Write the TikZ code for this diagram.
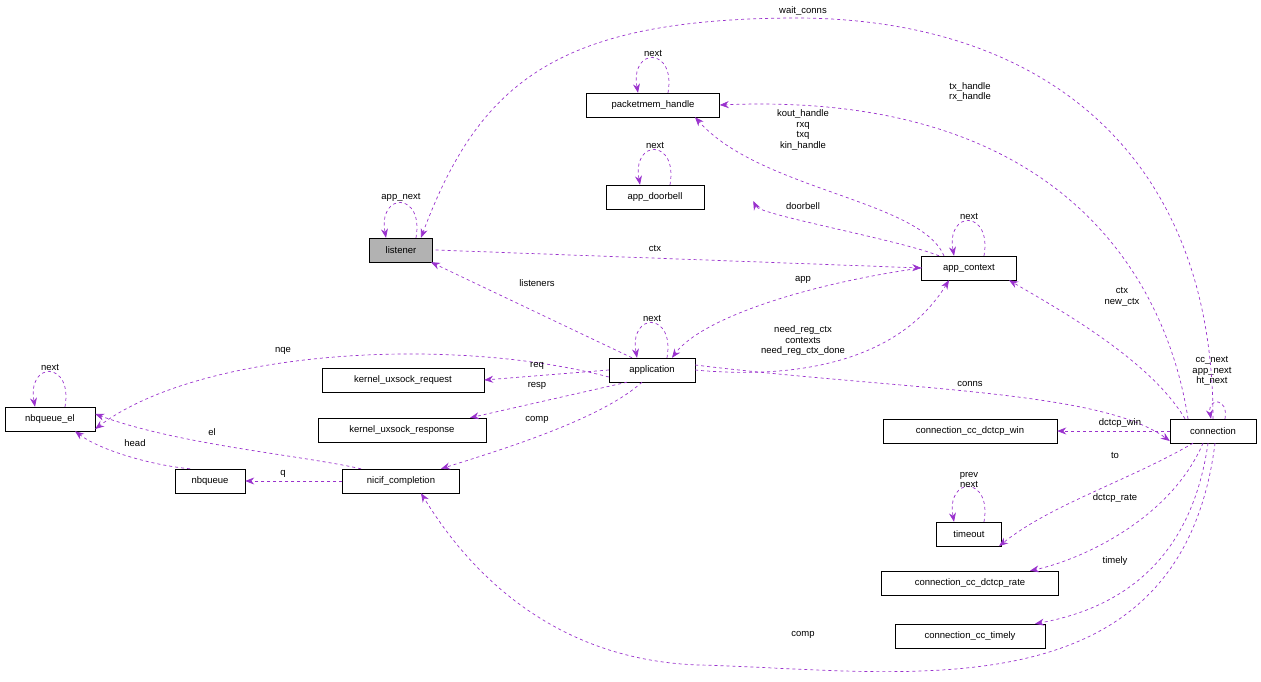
\documentclass[tikz,border=0pt]{standalone}
\usepackage{fontspec}
\setmainfont{Liberation Sans}
\usetikzlibrary{arrows.meta}
\definecolor{edgepurple}{HTML}{9A32CD}
\tikzset{
  box/.style={draw, fill=white, inner sep=0pt, minimum height=24pt, font=\fontsize{9.5}{10.5}\selectfont},
  rel/.style={draw=edgepurple, dashed, line width=0.7pt, -{Stealth[length=9pt,width=7pt]}},
  lbl/.style={font=\fontsize{9.5}{10.5}\selectfont, align=center, inner sep=1pt}
}
\begin{document}
\begin{tikzpicture}[x=1pt,y=-1pt]
  \useasboundingbox (0,0) rectangle (1261,682);
  % classes
  \node[box, fill=gray!60, minimum width=63pt] (listener) at (401,250) {listener};
  \node[box, minimum width=133pt] (pmh) at (653,105) {packetmem\_handle};
  \node[box, minimum width=98pt] (doorbell) at (655,197) {app\_doorbell};
  \node[box, minimum width=95pt] (appctx) at (969,268) {app\_context};
  \node[box, minimum width=86pt] (app) at (652,370) {application};
  \node[box, minimum width=162pt] (ureq) at (403,380) {kernel\_uxsock\_request};
  \node[box, minimum width=168pt] (uresp) at (402,430) {kernel\_uxsock\_response};
  \node[box, minimum width=90pt] (nqel) at (50,419) {nbqueue\_el};
  \node[box, minimum width=70pt] (nq) at (210,481) {nbqueue};
  \node[box, minimum width=117pt] (nicif) at (401,481) {nicif\_completion};
  \node[box, minimum width=86pt] (conn) at (1213,431) {connection};
  \node[box, minimum width=174pt] (ccwin) at (970,431) {connection\_cc\_dctcp\_win};
  \node[box, minimum width=65pt] (timeout) at (969,534) {timeout};
  \node[box, minimum width=177pt] (ccrate) at (970,583) {connection\_cc\_dctcp\_rate};
  \node[box, minimum width=150pt] (timely) at (970,636) {connection\_cc\_timely};
  % self loops
  \draw[rel] ([xshift=15pt]listener.north) to[out=80,in=100,looseness=4] node[lbl, above] (l1) {app\_next} ([xshift=-15pt]listener.north);
  \draw[rel] ([xshift=15pt]appctx.north) to[out=80,in=100,looseness=4] node[lbl, above] (l2) {next} ([xshift=-15pt]appctx.north);
  \draw[rel] ([xshift=15pt]app.north) to[out=80,in=100,looseness=4] node[lbl, above] (l3) {next} ([xshift=-15pt]app.north);
  \draw[rel] ([xshift=15pt]pmh.north) to[out=80,in=100,looseness=4] node[lbl, above] (l4) {next} ([xshift=-15pt]pmh.north);
  \draw[rel] ([xshift=15pt]doorbell.north) to[out=80,in=100,looseness=4] node[lbl, above] (l5) {next} ([xshift=-15pt]doorbell.north);
  \draw[rel] ([xshift=15pt]timeout.north) to[out=80,in=100,looseness=4] node[lbl, above, yshift=-2pt] (l6) {prev\\next} ([xshift=-15pt]timeout.north);
  \draw[rel] ([xshift=15pt]nqel.north) to[out=80,in=100,looseness=4] node[lbl, above] (l7) {next} ([xshift=-15pt]nqel.north);
  \draw[rel] ([xshift=12pt]conn.north) to[out=80,in=100,looseness=4] ([xshift=-2pt]conn.north);
  \node[lbl, align=center] (l8) at (1212,371) {cc\_next\\app\_next\\ht\_next};
  % relations
  \draw[rel] (conn.north) .. controls (1213,160) and (1050,20) .. (800,18) .. controls (560,18) and (480,80) .. ([xshift=20pt]listener.north);
  \node[lbl] (w) at (803,11) {wait\_conns};
  \draw[rel] ([xshift=-25pt]conn.north) .. controls (1170,300) and (1080,90) .. (pmh.east);
  \node[lbl] (txh) at (970,92) {tx\_handle\\rx\_handle};
  \draw[rel] ([xshift=-25pt]appctx.north) .. controls (920,200) and (760,190) .. ([xshift=42pt]pmh.south);
  \node[lbl] (kh) at (803,130) {kout\_handle\\rxq\\txq\\kin\_handle};
  \draw[rel] ([xshift=-30pt]appctx.north) .. controls (900,240) and (760,215) .. ([xshift=49pt,yshift=-4pt]doorbell.east);
  \node[lbl] (dl) at (803,206) {doorbell};
  \draw[rel] ([xshift=3pt]listener.east) -- (appctx.west);
  \node[lbl] (cl) at (655,248) {ctx};
  \draw[rel] ([xshift=-20pt]app.north) -- ([xshift=30pt]listener.south);
  \node[lbl] (ll) at (537,283) {listeners};
  \draw[rel] ([xshift=-47pt,yshift=-12pt]appctx.north) .. controls (800,285) and (700,320) .. ([xshift=20pt]app.north);
  \node[lbl] (al) at (803,280) {app};
  \draw[rel] (app.east) .. controls (800,380) and (900,360) .. ([xshift=-20pt]appctx.south);
  \node[lbl] (cx) at (803,341) {need\_reg\_ctx\\contexts\\need\_reg\_ctx\_done};
  \draw[rel] ([yshift=-7pt]app.west) .. controls (450,335) and (200,350) .. ([yshift=-10pt]nqel.east);
  \node[lbl] (nl) at (283,351) {nqe};
  \draw[rel] (app.west) -- (ureq.east);
  \node[lbl] (rq) at (537,366) {req};
  \draw[rel] ([xshift=-25pt]app.south) -- ([xshift=68pt]uresp.north);
  \node[lbl] (rs) at (537,386) {resp};
  \draw[rel] ([xshift=-10pt]app.south) .. controls (600,420) and (500,450) .. ([xshift=40pt]nicif.north);
  \node[lbl] (cp) at (537,420) {comp};
  \draw[rel] ([yshift=5pt]app.east) .. controls (900,390) and (1100,390) .. ([yshift=-10pt]conn.west);
  \node[lbl] (cn) at (970,384) {conns};
  \draw[rel] ([xshift=-28pt]conn.north) .. controls (1150,360) and (1060,310) .. ([xshift=40pt]appctx.south);
  \node[lbl] (nc) at (1122,297) {ctx\\new\_ctx};
  \draw[rel] (conn.west) -- (ccwin.east);
  \node[lbl] (dw) at (1120,423) {dctcp\_win};
  \draw[rel] ([xshift=-20pt]conn.south) .. controls (1130,480) and (1050,505) .. ([xshift=30pt]timeout.south);
  \node[lbl] (tl) at (1115,455) {to};
  \draw[rel] ([xshift=-10pt]conn.south) .. controls (1170,520) and (1080,560) .. ([xshift=60pt]ccrate.north);
  \node[lbl] (dr) at (1115,498) {dctcp\_rate};
  \draw[rel] ([xshift=-5pt]conn.south) .. controls (1190,570) and (1110,610) .. ([xshift=65pt]timely.north);
  \node[lbl] (tm) at (1115,561) {timely};
  \draw[rel] ([xshift=2pt]conn.south) .. controls (1180,720) and (900,670) .. (700,665) .. controls (530,660) and (450,540) .. ([xshift=20pt]nicif.south);
  \node[lbl] (c2) at (803,635) {comp};
  \draw[rel] (nicif.west) -- (nq.east);
  \node[lbl] (ql) at (283,474) {q};
  \draw[rel] ([xshift=-40pt]nicif.north) .. controls (300,455) and (180,445) .. ([yshift=5pt]nqel.east);
  \node[lbl] (el) at (212,432) {el};
  \draw[rel] ([xshift=-20pt]nq.north) .. controls (150,465) and (100,450) .. ([xshift=25pt]nqel.south);
  \node[lbl] (hd) at (135,443) {head};
\end{tikzpicture}
\end{document}
